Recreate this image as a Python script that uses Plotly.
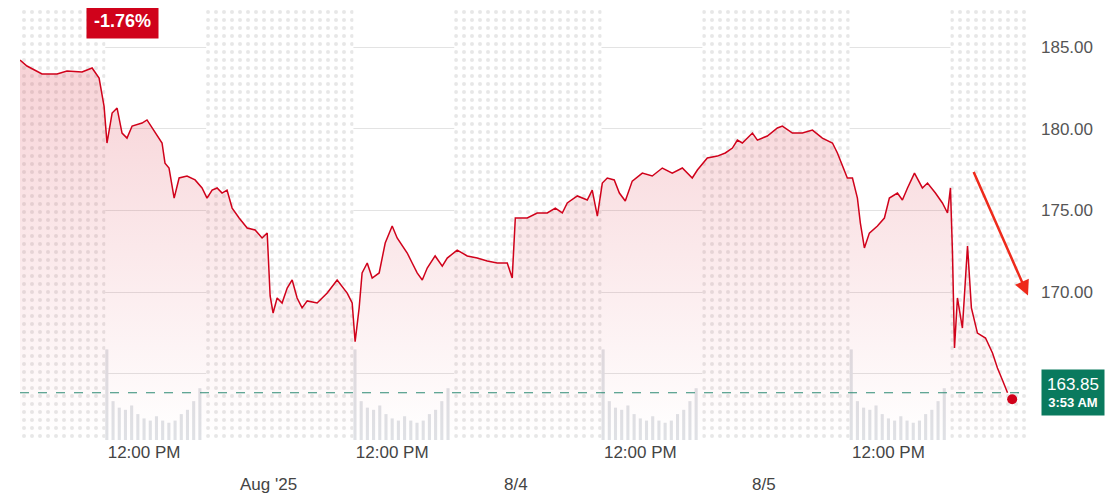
import plotly.graph_objects as go

# time in trading-hours since 4:00 AM of day 1 (16 h per day shown)
hours = [0, 0.45, 1.42, 2.39, 3.03, 4.0, 4.65, 5.1, 5.42, 5.61, 5.94, 6.26, 6.58, 6.9, 7.23, 7.87, 8.19,
         8.52, 8.84, 9.16, 9.35, 9.61, 9.94, 10.26, 10.77, 11.29, 11.74, 12.06, 12.39, 12.71, 13.03, 13.35,
         13.68, 14.13, 14.65, 15.16, 15.61, 15.94, 16.13, 16.32, 16.58, 16.9, 17.23, 17.55, 17.87, 18.19,
         18.52, 19.16, 19.81, 20.45, 21.1, 21.42, 21.61, 21.87, 22.06, 22.39, 22.71, 23.16, 23.55, 24.0,
         24.32, 24.97, 25.29, 25.61, 25.94, 26.26, 26.77, 27.23, 27.55, 28.19, 28.84, 29.48, 30.13, 30.77,
         31.42, 31.74, 31.94, 32.71, 33.35, 34.0, 34.52, 34.97, 35.29, 35.94, 36.58, 36.9, 37.23, 37.55,
         37.87, 38.32, 38.65, 39.03, 39.48, 40.13, 40.77, 41.42, 42.06, 42.71, 43.35, 43.68, 44.32, 44.97,
         45.48, 45.94, 46.26, 46.58, 47.23, 47.55, 48.19, 48.84, 49.16, 49.81, 50.45, 51.1, 51.74, 52.39,
         52.71, 53.03, 53.35, 53.68, 54.0, 54.19, 54.45, 54.77, 55.29, 55.74, 56.06, 56.58, 56.9, 57.23,
         57.68, 58.19, 58.52, 59.03, 59.48, 59.81, 60.0, 60.13, 60.26, 60.45, 60.77, 61.1, 61.35, 61.74,
         62.26, 62.71, 63.03, 63.35, 63.68]
prices = [184.2, 183.84, 183.35, 183.35, 183.53, 183.47, 183.72, 183.1, 181.39, 179.13, 180.96, 181.27,
          179.74, 179.43, 180.17, 180.35, 180.54, 180.05, 179.56, 179.13, 177.9, 177.6, 175.76, 176.99,
          177.11, 176.87, 176.38, 175.76, 176.25, 176.38, 176.07, 176.25, 175.15, 174.54, 173.93, 173.81,
          173.32, 173.62, 169.77, 168.73, 169.65, 169.34, 170.26, 170.75, 169.65, 169.04, 169.47, 169.34,
          169.95, 170.75, 169.95, 169.34, 166.97, 169.04, 171.18, 171.79, 170.87, 171.18, 173.01, 174.05,
          173.32, 172.4, 171.79, 171.18, 170.75, 171.48, 172.22, 171.6, 172.09, 172.58, 172.22, 172.09,
          171.91, 171.79, 171.79, 170.87, 174.54, 174.54, 174.85, 174.85, 175.15, 174.85, 175.46, 175.89,
          175.64, 176.25, 174.66, 176.68, 176.99, 176.87, 176.07, 175.58, 176.8, 177.29, 177.11, 177.6,
          177.29, 177.6, 176.99, 177.48, 178.21, 178.33, 178.52, 178.82, 179.31, 179.13, 179.74, 179.31,
          179.56, 180.05, 180.17, 179.74, 179.74, 179.92, 179.43, 179.13, 178.52, 177.72, 176.99, 176.99,
          175.76, 174.23, 172.71, 173.62, 174.05, 174.54, 175.76, 176.07, 175.64, 176.38, 177.29, 176.38,
          176.68, 176.07, 175.46, 174.85, 176.38, 172.4, 166.59, 169.65, 167.81, 172.83, 169.04, 167.5,
          167.2, 166.28, 165.37, 164.63, 163.85]

# volume (millions) during regular sessions
vol_hours = [5.6, 6.0, 6.4, 6.8, 7.2, 7.6, 8.0, 8.4, 8.8, 9.2, 9.6, 10.0, 10.4, 10.8, 11.2, 11.6]
vol_day = [2.1, 0.9, 0.75, 0.7, 0.8, 0.6, 0.5, 0.45, 0.55, 0.45, 0.4, 0.45, 0.6, 0.7, 0.9, 1.2]
session_starts = [0, 16, 32, 48]
ext_hours = [(0, 5.5), (12, 21.5), (28, 37.5), (44, 53.5), (60, 65)]

last_price = 163.85
last_time = "3:53 AM"
change_pct = "-1.76%"
noon_ticks = [8, 24, 40, 56]
date_ticks = [16, 32, 48]
date_labels = ["Aug '25", "8/4", "8/5"]

y_lo, y_hi = 160.96, 187.39
vol_scale = 2.64  # price units per million shares

fig = go.Figure()

# dotted extended-hours background
fig.add_trace(go.Bar(
    x=[(a + b) / 2 for a, b in ext_hours], y=[y_hi - y_lo] * len(ext_hours), base=y_lo,
    width=[b - a for a, b in ext_hours],
    marker=dict(color="white", line_width=0,
                pattern=dict(shape=".", fgcolor="#cfcfcf", bgcolor="white", size=8, solidity=0.2)),
    hoverinfo="skip", showlegend=False))

# volume bars
vx, vy = [], []
for s in session_starts:
    for h, v in zip(vol_hours, vol_day):
        vx.append(s + h)
        vy.append(v * vol_scale)
fig.add_trace(go.Bar(x=vx, y=vy, base=y_lo, width=0.2,
                     marker=dict(color="#dfe1e5", line_width=0), showlegend=False))

# baseline for gradient fill
fig.add_trace(go.Scatter(x=[hours[0], hours[-1]], y=[y_lo, y_lo], mode="lines",
                         line=dict(width=0), hoverinfo="skip", showlegend=False))
fig.add_trace(go.Scatter(
    x=hours, y=prices, mode="lines", line=dict(color="#d0021b", width=1.5),
    fill="tonexty",
    fillgradient=dict(type="vertical", colorscale=[[0, "rgba(215,30,50,0)"], [1, "rgba(215,30,50,0.2)"]]),
    showlegend=False))

fig.add_trace(go.Scatter(x=[hours[-1] + 0.3], y=[prices[-1] - 0.4], mode="markers",
                         marker=dict(color="#d0021b", size=10), showlegend=False))

fig.add_hline(y=last_price, line=dict(color="#2e8b74", width=1.2, dash="dash"))

fig.add_annotation(x=1.013, xref="paper", y=last_price, yref="y", xanchor="left",
                   text=f"<span style='font-size:17px'>{last_price:.2f}</span><br><b>{last_time}</b>",
                   showarrow=False, bgcolor="#0a7a5e", font=dict(color="white", size=13, family="Arial"),
                   borderpad=5)
fig.add_annotation(x=6.6, y=186.6, text=f"<b>{change_pct}</b>", showarrow=False,
                   bgcolor="#d0021b", font=dict(color="white", size=18, family="Arial"), borderpad=7)
fig.add_annotation(x=65, y=169.8, ax=-55, ay=-125, showarrow=True, arrowhead=2, arrowsize=1.2,
                   arrowwidth=2.5, arrowcolor="#ee2a1b", text="")
for t, lab in zip(date_ticks, date_labels):
    fig.add_annotation(x=t, y=-0.13, yref="paper", text=lab, showarrow=False,
                       font=dict(size=17, color="#444", family="Arial"))

fig.update_layout(
    width=1118, height=502, margin=dict(l=12, r=98, t=0, b=70),
    plot_bgcolor="white", paper_bgcolor="white", barmode="overlay",
    xaxis=dict(range=[0, 65], tickvals=noon_ticks, ticktext=["12:00 PM"] * 4, showgrid=False,
               zeroline=False, tickfont=dict(size=17, color="#444", family="Arial"), ticks=""),
    yaxis=dict(range=[y_lo, y_hi], side="right", tickvals=[165, 170, 175, 180, 185],
               ticktext=["", "170.00", "175.00", "180.00", "185.00"], gridcolor="#e3e3e3",
               zeroline=False, tickfont=dict(size=17, color="#555", family="Arial"), ticks="",
               ticklabelstandoff=12, layer="above traces"),
)

fig.write_html("out.html")
